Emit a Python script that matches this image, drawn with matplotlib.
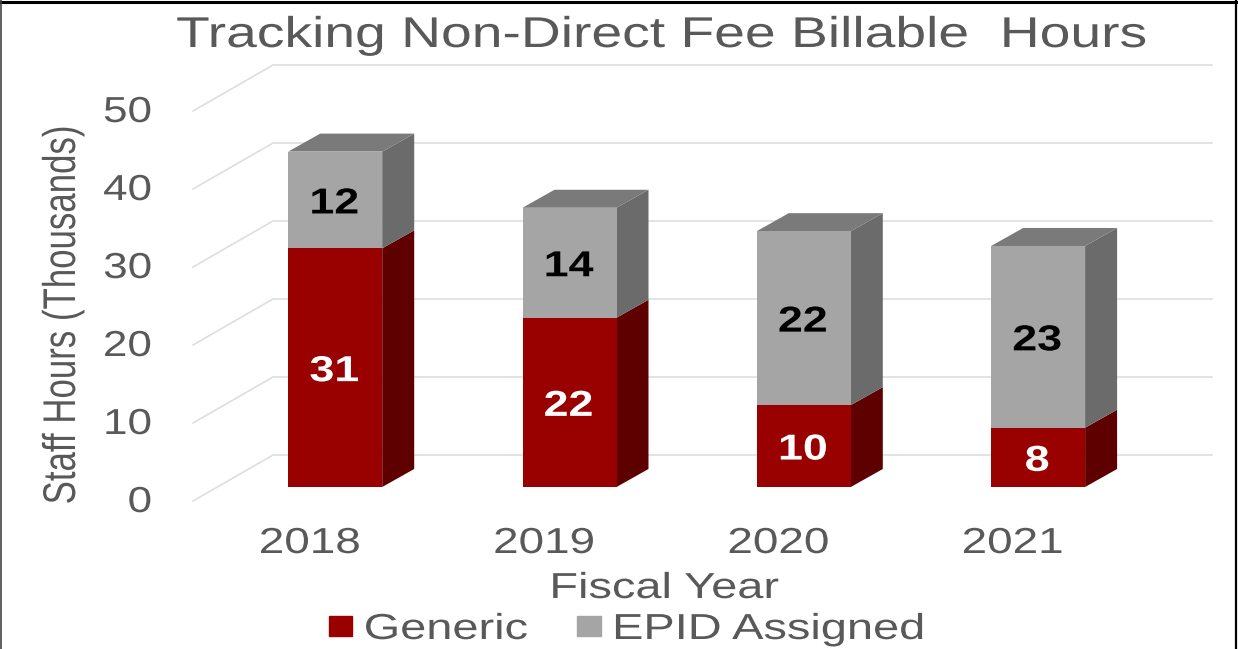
import matplotlib
matplotlib.use("Agg")
import matplotlib.pyplot as plt
from matplotlib.lines import Line2D
from matplotlib.patches import Polygon, Patch
from matplotlib.patheffects import AbstractPathEffect
from matplotlib.transforms import Affine2D

years = ["2018", "2019", "2020", "2021"]
generic = [30.6, 21.7, 10.5, 7.6]
epid = [12.4, 14.1, 22.3, 23.3]
generic_labels = ["31", "22", "10", "8"]
epid_labels = ["12", "14", "22", "23"]
y_ticks = [0, 10, 20, 30, 40, 50]

W, H = 1238, 649
PX_X, PX_Y = 234.3, 7.8          # pixels per category / per thousand hours
X0, Y0 = 335.2, 487              # pixel position of category 0 / value 0
BAR_W = 94 / PX_X
DX, DY = 32 / PX_X, 18 / PX_Y    # bar depth
GRID_FRONT_X, GRID_BACK_X, GRID_END_X = (193 - X0) / PX_X, (273 - X0) / PX_X, (1212 - X0) / PX_X
GRID_FRONT_Y, GRID_BACK_Y = -14 / PX_Y, 32 / PX_Y
TXT = "#595959"


class Stretch(AbstractPathEffect):
    """Scales the glyph outlines about the text's anchor point."""
    def __init__(self, text, sx=1.0, sy=1.0):
        super().__init__()
        self.text, self.sx, self.sy = text, sx, sy

    def draw_path(self, renderer, gc, tpath, affine, rgbFace=None):
        ax_, ay_ = self.text.get_transform().transform(self.text.get_position())
        stretch = Affine2D().translate(-ax_, -ay_).scale(self.sx, self.sy).translate(ax_, ay_)
        renderer.draw_path(gc, tpath, affine + stretch, rgbFace)


def stretched(t, sx=1.0, sy=1.0):
    t.set_path_effects([Stretch(t, sx, sy)])
    return t


plt.rcParams["font.family"] = ["Liberation Sans", "DejaVu Sans"]
fig = plt.figure(figsize=(W / 100, H / 100), dpi=100, facecolor="white")
ax = fig.add_axes([0, 0, 1, 1])
ax.set_xlim(-X0 / PX_X, (W - X0) / PX_X)
ax.set_ylim(-(H - Y0) / PX_Y, Y0 / PX_Y)
ax.set_axis_off()

# walls / gridlines
for v in y_ticks:
    ax.plot([GRID_FRONT_X, GRID_BACK_X, GRID_END_X],
            [v + GRID_FRONT_Y, v + GRID_BACK_Y, v + GRID_BACK_Y],
            color="#DEDEDE", lw=1.2, zorder=1, solid_joinstyle="miter")

# bars
x = list(range(len(years)))
b1 = ax.bar(x, generic, BAR_W, color="#990000", zorder=3, label="Generic")
b2 = ax.bar(x, epid, BAR_W, bottom=generic, color="#A5A5A5", zorder=3, label="EPID Assigned")
for i, (g, e) in enumerate(zip(generic, epid)):
    r = i + BAR_W / 2
    l = i - BAR_W / 2
    ax.add_patch(Polygon([(r, 0), (r + DX, DY), (r + DX, g + DY), (r, g)],
                         closed=True, fc="#5F0000", ec="none", zorder=2.5))
    ax.add_patch(Polygon([(r, g), (r + DX, g + DY), (r + DX, g + e + DY), (r, g + e)],
                         closed=True, fc="#6B6B6B", ec="none", zorder=2.5))
    ax.add_patch(Polygon([(l, g + e), (l + DX, g + e + DY), (r + DX, g + e + DY), (r, g + e)],
                         closed=True, fc="#7A7A7A", ec="none", zorder=2.5))
    stretched(ax.text(i - 0.004, g / 2, generic_labels[i], color="white", fontsize=26, fontweight="bold",
                      ha="center", va="center_baseline", zorder=4), sx=1.24)
    stretched(ax.text(i - 0.004, g + e / 2, epid_labels[i], color="black", fontsize=26, fontweight="bold",
                      ha="center", va="center_baseline", zorder=4), sx=1.24)
    stretched(ax.text(i - 0.108, -(553 - Y0) / PX_Y, years[i], color=TXT, fontsize=26,
                      ha="center", va="baseline"), sx=1.27)

# y tick labels
for v in y_ticks:
    stretched(ax.text((152 - X0) / PX_X, v - 25 / PX_Y, str(v), color=TXT, fontsize=26,
                      ha="right", va="baseline"), sx=1.22)

# titles
stretched(ax.text((661 - X0) / PX_X, -(47 - Y0) / PX_Y, "Tracking Non-Direct Fee Billable  Hours",
                  color=TXT, fontsize=31, ha="center", va="baseline"), sx=1.283)
stretched(ax.text((664 - X0) / PX_X, -(598 - Y0) / PX_Y, "Fiscal Year",
                  color=TXT, fontsize=26, ha="center", va="baseline"), sx=1.3)
stretched(ax.text((75 - X0) / PX_X, (Y0 - 315) / PX_Y,
                  "Staff Hours (Thousands)", color=TXT, fontsize=33, rotation=90,
                  ha="center", va="baseline", rotation_mode="anchor"), sy=0.76)

# legend
leg = ax.legend(handles=[Patch(color="#990000", label="Generic"),
                         Patch(color="#A5A5A5", label="EPID Assigned")],
                ncols=2, frameon=False, fontsize=26, loc="lower left",
                bbox_to_anchor=(329 / W, 1 - 647 / H), borderpad=0, borderaxespad=0,
                handlelength=0.64, handleheight=0.5, handletextpad=0.32, columnspacing=2.42,
                labelcolor=TXT)
for t in leg.get_texts():
    stretched(t, sx=1.30)

# frame of the picture
fig.add_artist(Line2D([0, 1236 / W], [1 - 1.5 / H, 1 - 1.5 / H], color="black", lw=2.2))
fig.add_artist(Line2D([1236 / W, 1236 / W], [0, 1], color="black", lw=1.6))
fig.add_artist(Line2D([0.5 / W, 0.5 / W], [0, 1], color="#444444", lw=1.2))

fig.savefig("out.png", dpi=100, facecolor="white")
